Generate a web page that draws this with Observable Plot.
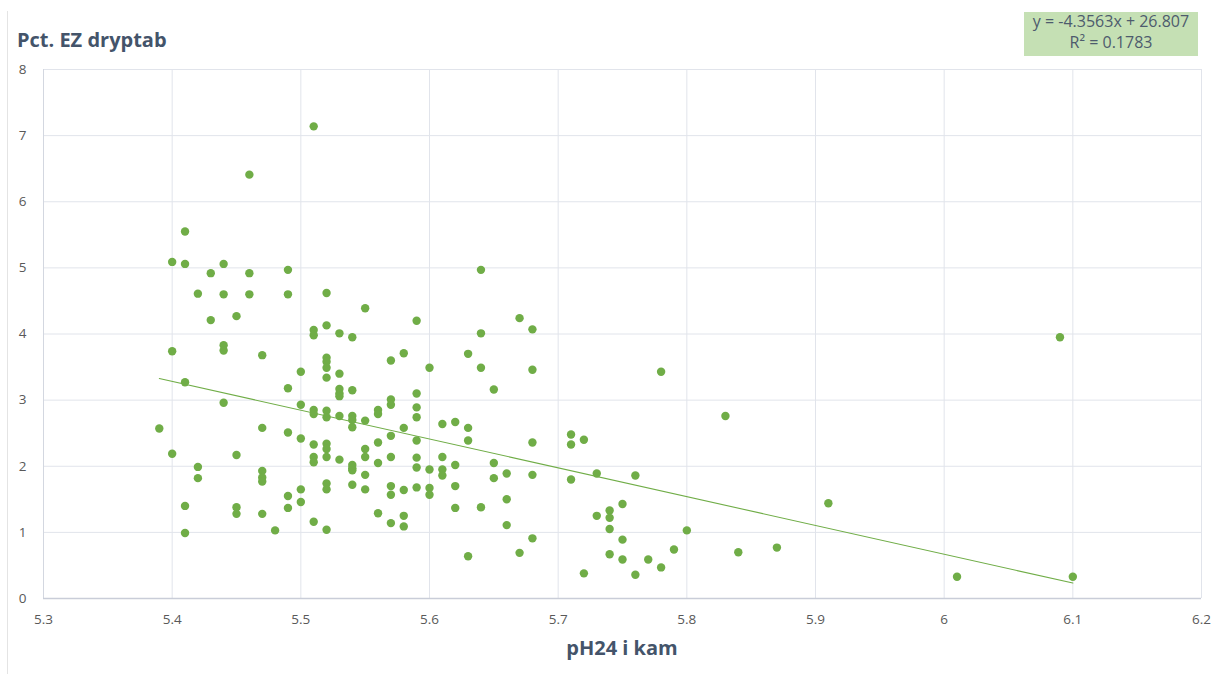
<!DOCTYPE html>
<html>
<head>
<meta charset="utf-8">
<script src="https://cdn.jsdelivr.net/npm/d3@7"></script>
<script src="https://cdn.jsdelivr.net/npm/@observablehq/plot@0.6"></script>
<style>
  html, body { margin: 0; padding: 0; background: #ffffff; }
  #wrap { position: relative; width: 1221px; height: 674px; overflow: hidden; font-family: "Open Sans", "Noto Sans", sans-serif; }
  #chart { position: absolute; left: 0; top: 0; }
  .title { position: absolute; left: 17px; top: 28px; font-size: 20px; font-weight: 700; color: #44546a; line-height: 24px; white-space: nowrap; }
  .xlabel { position: absolute; left: 0; width: 1244px; top: 636px; text-align: center; font-size: 20px; font-weight: 700; color: #44546a; line-height: 24px; }
  .eqbox { position: absolute; left: 1024px; top: 12px; width: 174px; height: 44px; background: #c5e0b4; color: #4d5b6d; font-size: 16px; text-align: center; line-height: 21px; white-space: nowrap; }
  .eqbox div { position: relative; top: -1px; }
  .border { position: absolute; left: 7px; top: 11px; width: 1px; height: 663px; background: #e4e4e4; }
</style>
</head>
<body>
<div id="wrap">
  <div class="border"></div>
  <div id="chart"></div>
  <div class="title">Pct. EZ dryptab</div>
  <div class="xlabel">pH24 i kam</div>
  <div class="eqbox"><div>y = -4.3563x + 26.807<br>R² = 0.1783</div></div>
</div>
<script>
// pH24 values (x) and Pct. EZ dryptab values (y)
const pH24 = [
  5.39,
  5.40, 5.40, 5.40,
  5.41, 5.41, 5.41, 5.41, 5.41,
  5.42, 5.42, 5.42,
  5.43, 5.43,
  5.44, 5.44, 5.44, 5.44, 5.44,
  5.45, 5.45, 5.45, 5.45,
  5.46, 5.46, 5.46,
  5.47, 5.47, 5.47, 5.47, 5.47, 5.47,
  5.48,
  5.49, 5.49, 5.49, 5.49, 5.49, 5.49,
  5.50, 5.50, 5.50, 5.50, 5.50,
  5.51, 5.51, 5.51, 5.51, 5.51, 5.51, 5.51, 5.51, 5.51,
  5.52, 5.52, 5.52, 5.52, 5.52, 5.52, 5.52, 5.52, 5.52, 5.52, 5.52, 5.52, 5.52, 5.52,
  5.53, 5.53, 5.53, 5.53, 5.53, 5.53, 5.53,
  5.54, 5.54, 5.54, 5.54, 5.54, 5.54, 5.54, 5.54, 5.54,
  5.55, 5.55, 5.55, 5.55, 5.55, 5.55,
  5.56, 5.56, 5.56, 5.56, 5.56,
  5.57, 5.57, 5.57, 5.57, 5.57, 5.57, 5.57, 5.57,
  5.58, 5.58, 5.58, 5.58, 5.58,
  5.59, 5.59, 5.59, 5.59, 5.59, 5.59, 5.59, 5.59,
  5.60, 5.60, 5.60, 5.60,
  5.61, 5.61, 5.61, 5.61,
  5.62, 5.62, 5.62, 5.62,
  5.63, 5.63, 5.63, 5.63,
  5.64, 5.64, 5.64, 5.64,
  5.65, 5.65, 5.65,
  5.66, 5.66, 5.66,
  5.67, 5.67,
  5.68, 5.68, 5.68, 5.68, 5.68,
  5.71, 5.71, 5.71,
  5.72, 5.72,
  5.73, 5.73,
  5.74, 5.74, 5.74, 5.74,
  5.75, 5.75, 5.75,
  5.76, 5.76,
  5.77,
  5.78, 5.78,
  5.79,
  5.80,
  5.83,
  5.84,
  5.87,
  5.91,
  6.01,
  6.09,
  6.10
];
const ezPct = [
  2.57,
  5.09, 3.74, 2.19,
  5.55, 5.06, 3.27, 1.40, 0.99,
  4.61, 1.99, 1.82,
  4.92, 4.21,
  5.06, 4.60, 3.83, 3.75, 2.96,
  4.27, 2.17, 1.38, 1.28,
  6.41, 4.92, 4.60,
  3.68, 2.58, 1.93, 1.83, 1.77, 1.28,
  1.03,
  4.97, 4.60, 3.18, 2.51, 1.55, 1.37,
  3.43, 2.93, 2.42, 1.65, 1.46,
  7.14, 4.06, 3.98, 2.85, 2.79, 2.33, 2.14, 2.06, 1.16,
  4.62, 4.13, 3.64, 3.58, 3.49, 3.34, 2.84, 2.74, 2.34, 2.26, 2.14, 1.74, 1.65, 1.04,
  4.01, 3.40, 3.17, 3.10, 3.06, 2.76, 2.10,
  3.95, 3.15, 2.76, 2.70, 2.59, 2.02, 1.97, 1.94, 1.72,
  4.39, 2.69, 2.26, 2.14, 1.87, 1.65,
  2.85, 2.79, 2.36, 2.05, 1.29,
  3.60, 3.01, 2.93, 2.46, 2.14, 1.70, 1.57, 1.14,
  3.71, 2.58, 1.64, 1.25, 1.09,
  4.20, 3.10, 2.89, 2.74, 2.39, 2.13, 1.98, 1.68,
  3.49, 1.95, 1.67, 1.57,
  2.64, 2.14, 1.95, 1.86,
  2.67, 2.02, 1.70, 1.37,
  3.70, 2.58, 2.39, 0.64,
  4.97, 4.01, 3.49, 1.38,
  3.16, 2.05, 1.82,
  1.89, 1.50, 1.11,
  4.24, 0.69,
  4.07, 3.46, 2.36, 1.87, 0.91,
  2.48, 2.33, 1.80,
  2.40, 0.38,
  1.89, 1.25,
  1.33, 1.22, 1.05, 0.67,
  1.43, 0.89, 0.59,
  1.86, 0.36,
  0.59,
  3.43, 0.47,
  0.74,
  1.03,
  2.76,
  0.70,
  0.77,
  1.44,
  0.33,
  3.95,
  0.33
];

// Linear trendline (as shown in the chart)
const trendSlope = -4.3563;
const trendIntercept = 26.807;

// Axis ticks and labels
const xTicks = [5.3, 5.4, 5.5, 5.6, 5.7, 5.8, 5.9, 6.0, 6.1, 6.2];
const xTickLabels = ["5.3", "5.4", "5.5", "5.6", "5.7", "5.8", "5.9", "6", "6.1", "6.2"];
const yTicks = [0, 1, 2, 3, 4, 5, 6, 7, 8];
const yTickLabels = ["0", "1", "2", "3", "4", "5", "6", "7", "8"];

const points = pH24.map((x, i) => ({x, y: ezPct[i]}));
const [xMin, xMax] = d3.extent(pH24);
const trend = [xMin, xMax].map(x => ({x, y: trendSlope * x + trendIntercept}));

const green = "#70ad47";
const gridColor = "#e1e4eb";

const chart = Plot.plot({
  width: 1221,
  height: 674,
  marginLeft: 43,
  marginRight: 20,
  marginTop: 69,
  marginBottom: 76,
  style: {fontFamily: "'Open Sans', 'Noto Sans', sans-serif", fontSize: "13.5px", color: "#595959", background: "transparent", overflow: "visible"},
  x: {domain: [5.3, 6.2], label: null},
  y: {domain: [0, 8], label: null},
  marks: [
    Plot.gridX(xTicks, {stroke: gridColor, strokeOpacity: 1, strokeWidth: 1}),
    Plot.gridY(yTicks, {stroke: gridColor, strokeOpacity: 1, strokeWidth: 1}),
    Plot.ruleX([5.3], {stroke: "#d3d7e0", strokeWidth: 1}),
    Plot.ruleY([0], {stroke: "#c9cdd8", strokeWidth: 1.5}),
    Plot.axisX(xTicks, {tickSize: 0, tickPadding: 16, label: null, tickFormat: (d, i) => xTickLabels[i], fill: "#595959"}),
    Plot.axisY(yTicks, {tickSize: 0, tickPadding: 17, label: null, tickFormat: (d, i) => yTickLabels[i], fill: "#595959"}),
    Plot.line(trend, {x: "x", y: "y", stroke: green, strokeWidth: 1.1}),
    Plot.dot(points, {x: "x", y: "y", r: 4.2, fill: green, stroke: "none"})
  ]
});
document.getElementById("chart").appendChild(chart);
</script>
</body>
</html>
